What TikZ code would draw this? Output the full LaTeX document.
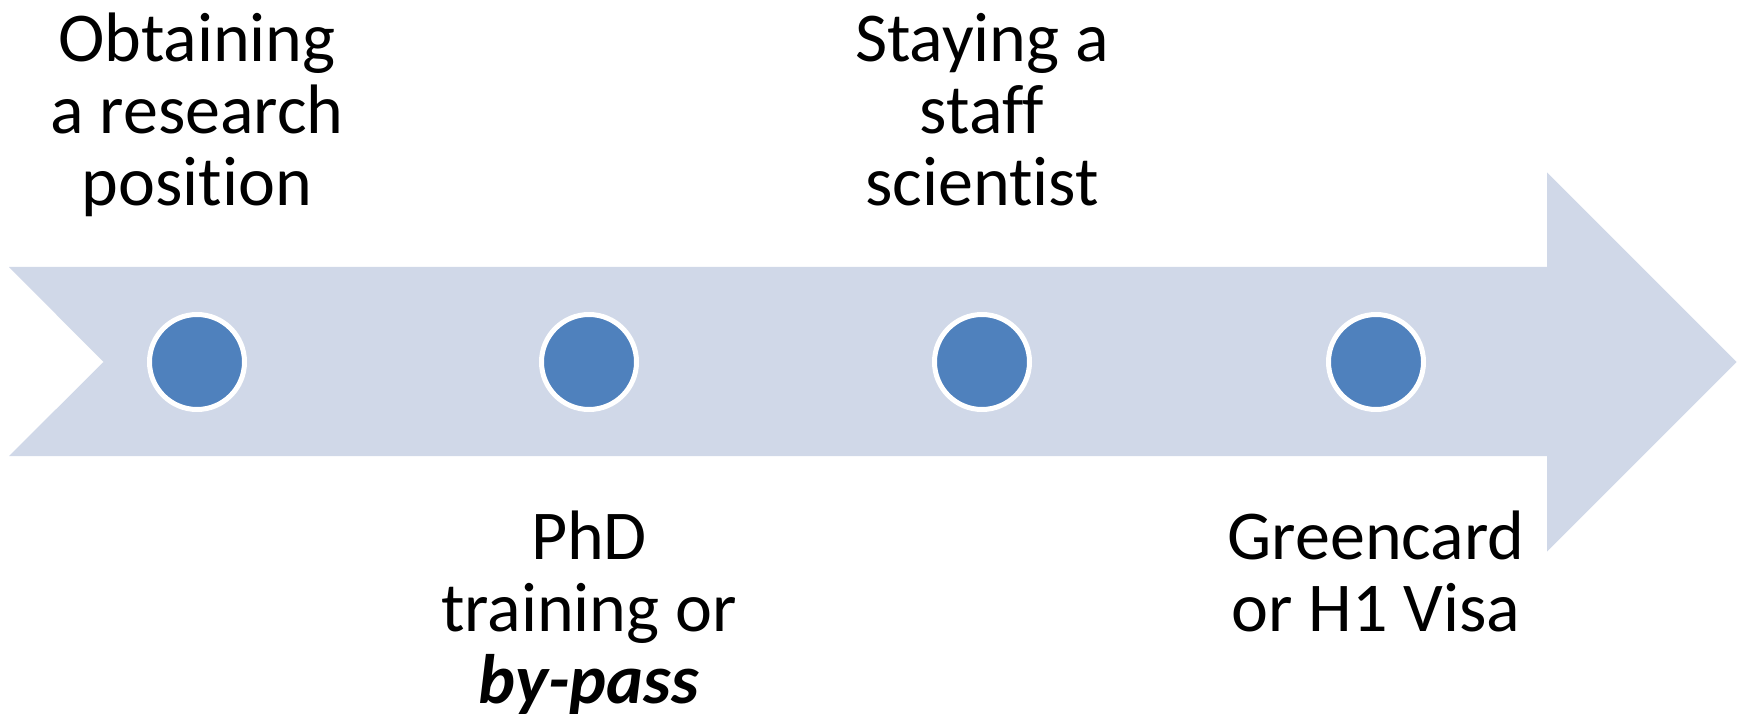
\documentclass[tikz,border=0pt]{standalone}
\usepackage{fontspec}
\setmainfont{Carlito}[Ligatures=NoCommon]
\usepackage{xcolor}
\definecolor{arrowBlue}{HTML}{D0D8E8}
\definecolor{dotBlue}{HTML}{4F81BD}

\begin{document}
\begin{tikzpicture}[x=1pt, y=-1pt,
        dot/.style={circle, draw=white, line width=5pt, fill=dotBlue, minimum size=95pt, inner sep=0pt},
        lbl/.style={align=center, inner sep=0pt, anchor=base, font=\fontsize{70}{72}\selectfont}]
            \useasboundingbox (0,0) rectangle (1745,719);

            % the big arrow
            \fill[arrowBlue] (9,267) -- (1547,267) -- (1547,172.5) -- (1736.5,362)
                -- (1547,551.5) -- (1547,456) -- (9,456) -- (103.5,362) -- cycle;

            \node[dot] (1) at (197,362) {};
            \node[dot] (2) at (589,362) {};
            \node[dot] (3) at (982,362) {};
            \node[dot] (4) at (1376,362) {};

            % labels, placed by the baseline of their last line
            \node[lbl] (a) at (1 |- 0,206) {Obtaining\\a research\\position};
            \node[lbl] (b) at (2 |- 0,703) {PhD\\training or\\\textbf{\textit{by-pass}}};
            \node[lbl] (c) at (3 |- 0,206) {Staying a\\staff\\scientist};
            \node[lbl] (d) at (4 |- 0,631) {Greencard\\or H1 Visa};
        \end{tikzpicture}
\end{document}
